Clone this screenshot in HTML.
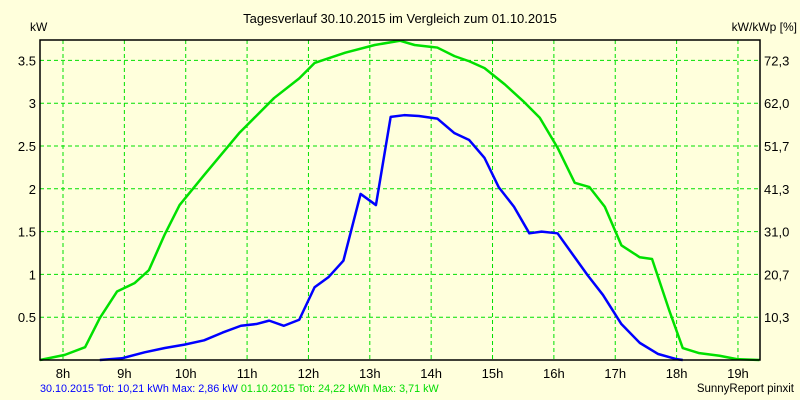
<!DOCTYPE html>
<html><head><meta charset="utf-8"><style>
body{margin:0;background:#FFFFDC;}
svg{display:block;font-family:"Liberation Sans",sans-serif;}
</style></head><body>
<svg width="800" height="400" viewBox="0 0 800 400">
<rect width="800" height="400" fill="#FFFFDC"/>
<text x="400" y="23" font-size="13" text-anchor="middle">Tagesverlauf 30.10.2015 im Vergleich zum 01.10.2015</text>
<text x="30" y="31" font-size="12">kW</text>
<text x="797" y="31" font-size="12" text-anchor="end">kW/kWp [%]</text>
<g id="grid"></g>
<g id="series"></g>
<rect x="40" y="40" width="720" height="320" fill="none" stroke="#000" stroke-width="1.5"/>
<g id="labels"></g>
<text x="40" y="392" font-size="10.8" fill="#0000FF">30.10.2015 Tot: 10,21 kWh Max: 2,86 kW <tspan fill="#00DD00">01.10.2015 Tot: 24,22 kWh Max: 3,71 kW</tspan></text>
<text x="794" y="392" font-size="11.5" text-anchor="end">SunnyReport pinxit</text>
</svg>
<script>
const xTicks=[8,9,10,11,12,13,14,15,16,17,18,19];
const yTicks=[0.5,1,1.5,2,2.5,3,3.5];
const yTickLabels=["0.5","1","1.5","2","2.5","3","3.5"];
const rightTickLabels=["10,3","20,7","31,0","41,3","51,7","62,0","72,3"];
const greenTimes=[7.625,8.03,8.36,8.6,8.88,9.17,9.4,9.66,9.9,10.3,10.87,11.44,11.85,12.1,12.6,13.08,13.49,13.73,13.98,14.1,14.38,14.62,14.87,15.2,15.52,15.77,16.06,16.34,16.58,16.83,17.1,17.4,17.6,17.88,18.1,18.37,18.7,18.98,19.35];
const greenValues=[0,0.06,0.15,0.49,0.8,0.9,1.05,1.47,1.81,2.16,2.65,3.06,3.29,3.47,3.59,3.68,3.73,3.68,3.66,3.65,3.55,3.49,3.41,3.22,3.01,2.83,2.48,2.07,2.02,1.79,1.34,1.2,1.18,0.58,0.14,0.08,0.05,0.01,0];
const blueTimes=[8.6,8.96,9.33,9.66,9.98,10.3,10.6,10.9,11.15,11.36,11.6,11.85,12.1,12.33,12.57,12.85,13.1,13.34,13.56,13.8,14.1,14.38,14.62,14.87,15.1,15.35,15.6,15.8,16.06,16.3,16.55,16.8,17.1,17.4,17.7,18,18.1];
const blueValues=[0,0.02,0.09,0.14,0.18,0.23,0.32,0.4,0.42,0.46,0.4,0.47,0.85,0.97,1.16,1.94,1.81,2.84,2.86,2.85,2.82,2.65,2.57,2.36,2.02,1.79,1.48,1.5,1.48,1.24,0.99,0.76,0.42,0.2,0.07,0.01,0];
const NS="http://www.w3.org/2000/svg";
const X=t=>63+(t-8)*61.36;
const Y=v=>360-v*85.6;
function mk(tag,attrs,parent){const e=document.createElementNS(NS,tag);for(const k in attrs)e.setAttribute(k,attrs[k]);document.getElementById(parent).appendChild(e);return e;}
xTicks.forEach((t,i)=>{
 const l=mk('line',{x1:X(t),x2:X(t),y1:40,y2:360,stroke:'#00E000','stroke-dasharray':'4,3'},'grid');
 
 
 const tx=mk('text',{x:X(t),y:378,'font-size':13,'text-anchor':'middle'},'labels');tx.textContent=t+'h';
 
 
});
yTicks.forEach((v,i)=>{
 const l=mk('line',{x1:40,x2:760,y1:Y(v),y2:Y(v),stroke:'#00E000','stroke-dasharray':'4,3'},'grid');
 
 
 const a=mk('text',{x:36,y:Y(v)+5,'font-size':13,'text-anchor':'end'},'labels');a.textContent=yTickLabels[i];
 
 
 const b=mk('text',{x:764,y:Y(v)+5,'font-size':13},'labels');b.textContent=rightTickLabels[i];
 
 
});
function line(ts,vs,color,name){
 const p=mk('polyline',{points:ts.map((t,i)=>X(t)+','+Y(vs[i])).join(' '),fill:'none',stroke:color,'stroke-width':2.5,'stroke-linejoin':'round'},'series');
 
 
}
line(greenTimes,greenValues,'#00E000','series-01-10-2015');
line(blueTimes,blueValues,'#0000FF','series-30-10-2015');
</script>
</body></html>
